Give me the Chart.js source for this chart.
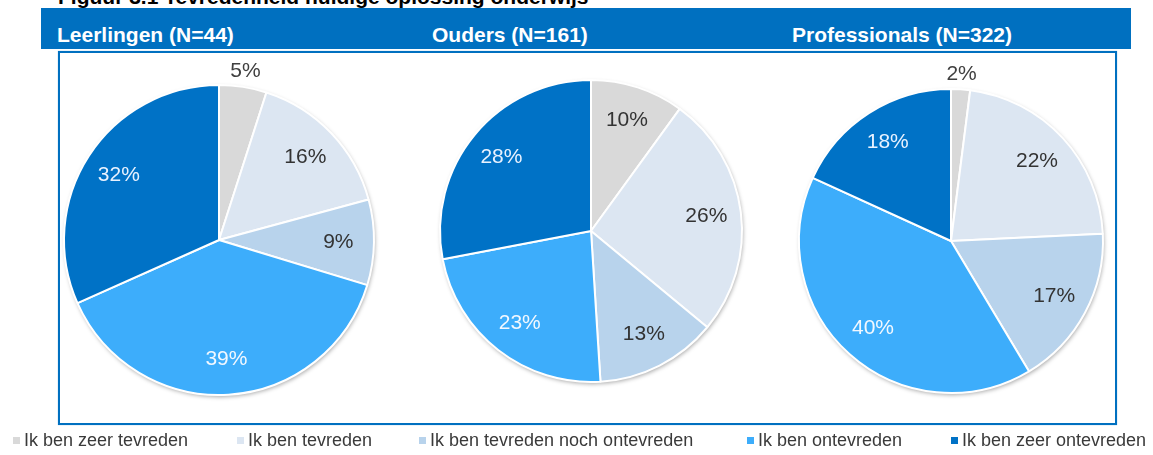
<!DOCTYPE html>
<html>
<head>
<meta charset="utf-8">
<script src="https://cdn.jsdelivr.net/npm/chart.js@4"></script>
<style>
body{margin:0;width:1153px;height:455px;background:#fff;position:relative;overflow:hidden;font-family:"Liberation Sans",Arial,sans-serif}
#title{position:absolute;left:58px;top:-14px;font-size:21px;line-height:21px;font-weight:bold;color:#000;white-space:nowrap}
#bar{position:absolute;left:41px;top:8px;width:1090px;height:41px;background:#0070C0}
.head{position:absolute;top:24px;font-size:21px;line-height:21px;font-weight:bold;color:#fff;white-space:nowrap}
#box{position:absolute;left:58px;top:51px;width:1055px;height:370px;border:2px solid #0070C0;box-shadow:0 0 1px #7fb8e8}
.pie{position:absolute;width:400px;height:400px}
.leg{position:absolute;top:431px;font-size:18px;line-height:18px;color:#3a3a3a;white-space:nowrap}
.leg i{position:absolute;left:-11px;top:6px;width:7px;height:7px}
</style>
</head>
<body>
<div id="title">Figuur 3.1 Tevredenheid huidige oplossing onderwijs</div>
<div id="bar"></div>
<div class="head" style="left:57px">Leerlingen (N=44)</div>
<div class="head" style="left:432px">Ouders (N=161)</div>
<div class="head" style="left:792px">Professionals (N=322)</div>
<div id="box"></div>
<div class="pie" style="left:19px;top:40px"><canvas id="c1"></canvas></div>
<div class="pie" style="left:391px;top:31px"><canvas id="c2"></canvas></div>
<div class="pie" style="left:751px;top:41px"><canvas id="c3"></canvas></div>
<div id="legend"></div>
<script>
// antwoordcategorieen
var categories = ["Ik ben zeer tevreden", "Ik ben tevreden", "Ik ben tevreden noch ontevreden", "Ik ben ontevreden", "Ik ben zeer ontevreden"];
// percentages per groep
var leerlingen = [5, 16, 9, 39, 32];
var ouders = [10, 26, 13, 23, 28];
var professionals = [2, 22, 17, 40, 18];

var colors = ["#D9D9D9", "#DCE6F2", "#B8D3EC", "#3DADFB", "#0072C6"];
var textColors = ["#333333", "#333333", "#333333", "#F2F8FF", "#E8F2FF"];

// schaduw onder de taart
var shadowPlugin = {
    id: 'pieShadow',
    beforeDatasetsDraw: function(chart) {
        var arc = chart.getDatasetMeta(0).data[0];
        if (!arc) return;
        var ctx = chart.ctx;
        ctx.save();
        ctx.shadowColor = 'rgba(0,0,0,0.35)';
        ctx.shadowBlur = 4;
        ctx.shadowOffsetX = 1;
        ctx.shadowOffsetY = 2;
        ctx.fillStyle = '#fff';
        ctx.beginPath();
        ctx.arc(arc.x, arc.y, arc.outerRadius, 0, Math.PI * 2);
        ctx.fill();
        ctx.restore();
    }
};

// percentages in/naast de taartpunten
var labelPlugin = {
    id: 'pieLabels',
    afterDatasetsDraw: function(chart) {
        var ctx = chart.ctx;
        var ds = chart.data.datasets[0];
        ctx.save();
        ctx.font = '21px "Liberation Sans", Arial, sans-serif';
        ctx.textAlign = 'center';
        ctx.textBaseline = 'middle';
        chart.getDatasetMeta(0).data.forEach(function(arc, i) {
            var v = ds.data[i];
            var mid = (arc.startAngle + arc.endAngle) / 2;
            var outside = v < 6;
            var r = arc.outerRadius * (outside ? 1.1 : 0.77);
            ctx.fillStyle = outside ? '#404040' : textColors[i];
            ctx.fillText(v + '%', arc.x + Math.cos(mid) * r, arc.y + Math.sin(mid) * r);
        });
        ctx.restore();
    }
};

function makePie(id, values, radius) {
    return new Chart(document.getElementById(id), {
        type: 'pie',
        data: {
            labels: categories,
            datasets: [{
                data: values,
                backgroundColor: colors,
                borderColor: '#ffffff',
                borderWidth: 2,
                radius: radius
            }]
        },
        options: {
            responsive: true,
            maintainAspectRatio: false,
            animation: false,
            plugins: {
                legend: { display: false },
                tooltip: { enabled: false }
            }
        },
        plugins: [shadowPlugin, labelPlugin]
    });
}

makePie('c1', leerlingen, 155);
makePie('c2', ouders, 151);
makePie('c3', professionals, 152);

// legenda onderaan
var legendX = [24, 248, 430, 758, 962];
var legend = document.getElementById('legend');
categories.forEach(function(c, i) {
    var d = document.createElement('div');
    d.className = 'leg';
    d.style.left = legendX[i] + 'px';
    d.innerHTML = '<i style="background:' + colors[i] + '"></i>' + c;
    legend.appendChild(d);
});
</script>
</body>
</html>
